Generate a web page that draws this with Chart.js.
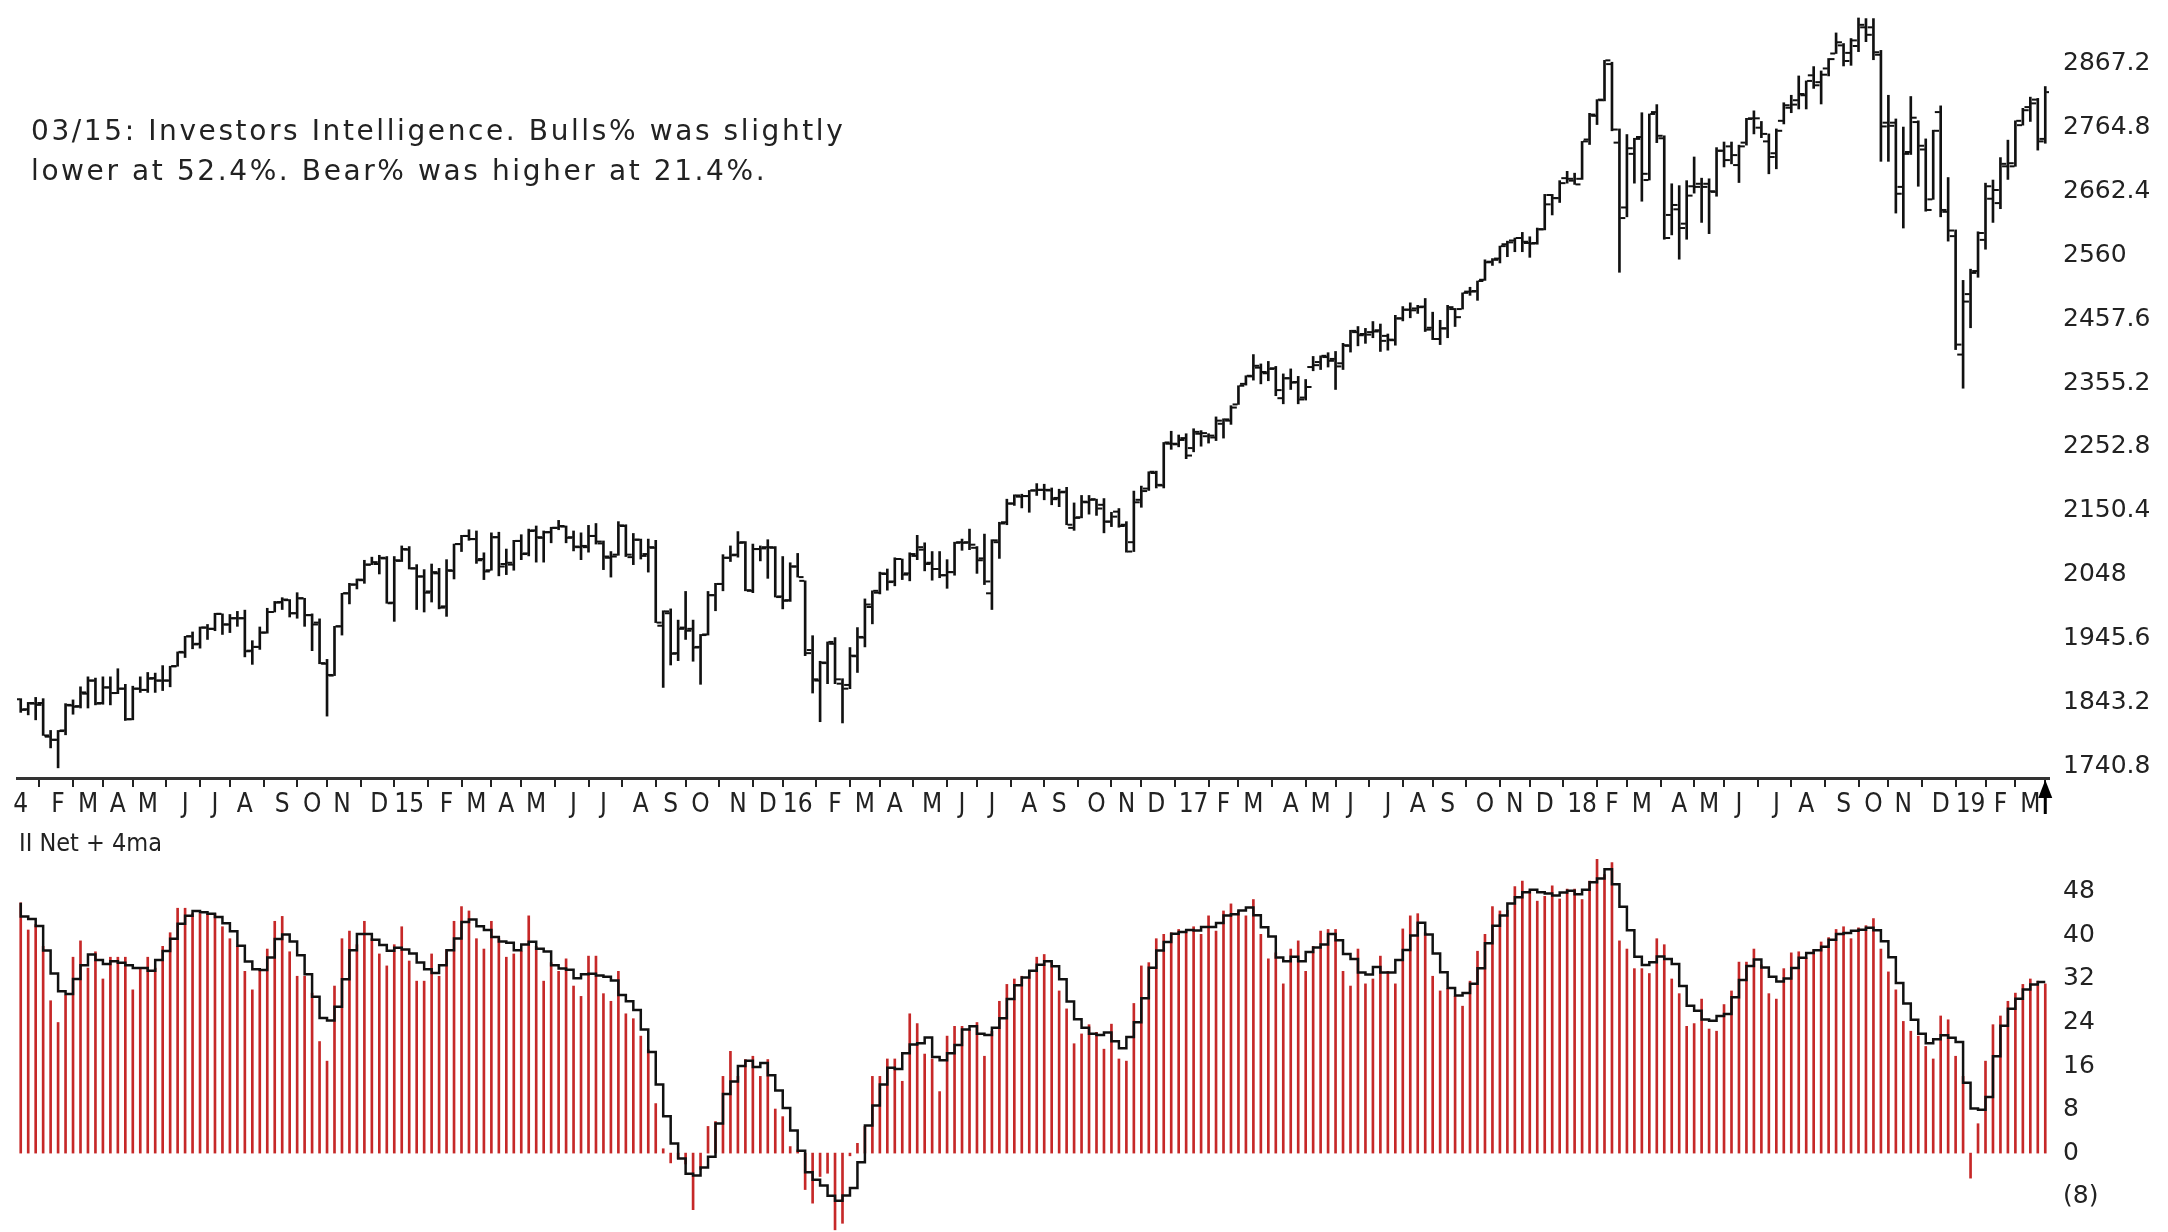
<!DOCTYPE html>
<html>
<head>
<meta charset="utf-8">
<script src="https://cdn.jsdelivr.net/npm/chart.js@4.4.1/dist/chart.umd.min.js"></script>
<style>
  body { margin: 0; background: #fff; width: 2168px; height: 1232px; overflow: hidden; position: relative; }
  #priceChart { position: absolute; left: 0; top: 0; }
  #netChart { position: absolute; left: 0; top: 840px; }
  .note { position: absolute; left: 31px; top: 111px; font-family: 'DejaVu Sans', sans-serif; font-size: 28px; line-height: 40px; letter-spacing: 2.6px; color: #222; white-space: nowrap; }
  .panel-label { position: absolute; left: 19px; top: 828px; font-family: 'DejaVu Sans Condensed', 'DejaVu Sans', sans-serif; font-size: 25px; line-height: 30px; color: #222; }
</style>
</head>
<body>
<canvas id="priceChart" width="2168" height="835"></canvas>
<canvas id="netChart" width="2168" height="392"></canvas>
<div class="note">03/15: Investors Intelligence. Bulls% was slightly<br>lower at 52.4%. Bear% was higher at 21.4%.</div>
<div class="panel-label">II Net + 4ma</div>
<script>
// weekly bars, first week of Jan 2014 to 03/15/2019
const opens = [
  1848,1832,1841,1842,1788,1783,1798,1838,1837,1857, 1878,1842,1867,1858,1865,1816,1865,1863,1882,1878,
  1878,1901,1923,1949,1937,1963,1961,1985,1968,1978, 1978,1926,1932,1955,1988,2004,2007,1986,2010,1983,
  1971,1905,1886,1965,2018,2032,2039,2064,2065,2074, 2003,2070,2088,2058,2045,2021,2050,1997,2054,2097,
  2110,2105,2073,2055,2108,2065,2064,2102,2082,2119, 2107,2116,2123,2125,2108,2092,2092,2110,2098,2075,
  2080,2126,2076,2104,2081,2091,1966,1986,1922,1963, 1961,1932,1952,2015,2033,2075,2080,2100,2022,2089,
  2092,2091,2013,2007,2061,2038,1927,1878,1906,1937, 1873,1871,1917,1947,1996,2019,2049,2037,2073,2050,
  2078,2088,2067,2057,2047,2052,2100,2100,2091,2074, 2018,2100,2132,2162,2173,2174,2183,2184,2183,2171,
  2181,2123,2140,2164,2169,2160,2133,2149,2128,2100, 2168,2186,2211,2191,2258,2257,2267,2251,2274,2270,
  2268,2290,2295,2321,2354,2366,2380,2371,2379,2331, 2363,2357,2332,2381,2389,2397,2394,2387,2415,2437,
  2434,2437,2440,2431,2424,2459,2473,2475,2478,2444, 2426,2443,2474,2474,2502,2503,2521,2550,2555,2578,
  2584,2588,2580,2580,2602,2657,2652,2684,2680,2683, 2746,2784,2809,2867,2741,2637,2723,2750,2681,2790,
  2748,2625,2634,2611,2671,2675,2675,2662,2728,2735, 2705,2741,2780,2765,2743,2724,2776,2797,2809,2817,
  2849,2838,2860,2884,2897,2885,2896,2926,2926,2882, 2773,2773,2670,2726,2774,2730,2650,2790,2630,2591,
  2401,2498,2535,2585,2651,2644,2703,2703,2769,2798, 2810,2747
];
const highs = [
  1849,1843,1851,1849,1798,1798,1841,1847,1868,1884, 1882,1884,1884,1897,1872,1869,1884,1891,1890,1902,
  1901,1924,1949,1956,1964,1968,1986,1985,1984,1989, 1991,1942,1964,1994,2005,2011,2008,2019,2010,1985,
  1977,1912,1965,2018,2034,2041,2071,2076,2079,2077, 2077,2094,2093,2064,2056,2065,2058,2072,2097,2111,
  2120,2118,2083,2115,2116,2089,2103,2112,2121,2126, 2118,2124,2135,2126,2118,2115,2127,2130,2102,2085,
  2133,2128,2114,2105,2105,2103,1990,1993,1975,2021, 1975,1952,2021,2034,2080,2094,2117,2101,2097,2094,
  2104,2093,2077,2067,2082,2038,1950,1909,1940,1947, 1881,1931,1963,2009,2022,2052,2057,2075,2073,2083,
  2111,2099,2085,2085,2072,2100,2105,2121,2093,2113, 2104,2132,2169,2176,2177,2183,2194,2193,2187,2185,
  2188,2163,2175,2175,2169,2170,2148,2154,2133,2182, 2190,2213,2214,2260,2278,2272,2274,2282,2279,2274,
  2301,2298,2319,2351,2367,2401,2386,2390,2382,2370, 2378,2366,2361,2398,2399,2404,2406,2419,2440,2446,
  2443,2454,2450,2434,2464,2478,2484,2480,2491,2469, 2456,2480,2475,2500,2509,2519,2553,2555,2575,2583,
  2588,2597,2590,2604,2658,2658,2680,2695,2692,2743, 2788,2810,2873,2870,2763,2754,2748,2789,2787,2802,
  2752,2675,2672,2680,2718,2684,2683,2733,2742,2742, 2737,2780,2792,2775,2755,2763,2805,2817,2848,2840,
  2863,2856,2876,2917,2900,2908,2941,2940,2940,2889, 2817,2779,2766,2815,2776,2747,2761,2800,2685,2601,
  2520,2538,2598,2676,2681,2717,2745,2776,2796,2814, 2812,2831
];
const lows = [
  1827,1823,1815,1790,1770,1738,1791,1824,1834,1834, 1839,1840,1839,1857,1814,1815,1859,1859,1859,1862,
  1868,1901,1915,1929,1930,1944,1958,1952,1955,1965, 1916,1904,1928,1954,1988,1992,1980,1978,1965,1926,
  1905,1821,1886,1951,2001,2025,2034,2064,2049,2002, 1973,2069,2057,1992,1988,2004,1993,1981,2041,2085,
  2103,2066,2040,2055,2046,2048,2055,2072,2078,2068, 2068,2099,2120,2099,2086,2072,2084,2097,2056,2044,
  2079,2077,2064,2073,2052,1971,1867,1903,1910,1944, 1909,1872,1951,1990,2022,2069,2076,2022,2019,2070,
  2042,2012,1993,2005,2044,1918,1858,1812,1873,1873, 1810,1865,1891,1932,1969,2017,2023,2030,2040,2038,
  2072,2054,2039,2043,2026,2047,2087,2088,2050,2032, 1992,2074,2128,2159,2155,2148,2175,2168,2160,2157,
  2128,2119,2139,2145,2143,2115,2125,2124,2084,2085, 2156,2183,2187,2187,2249,2253,2234,2245,2254,2259,
  2263,2267,2289,2321,2352,2360,2354,2359,2335,2322, 2345,2322,2328,2375,2377,2381,2345,2377,2405,2415,
  2419,2428,2406,2408,2416,2455,2460,2467,2438,2425, 2417,2428,2446,2474,2496,2488,2520,2544,2548,2558,
  2566,2566,2557,2578,2601,2625,2645,2676,2674,2682, 2738,2770,2808,2760,2533,2622,2676,2647,2681,2741,
  2586,2593,2554,2586,2660,2613,2595,2655,2702,2707, 2677,2737,2755,2749,2691,2699,2771,2789,2795,2795,
  2828,2803,2848,2884,2864,2865,2887,2903,2874,2711, 2711,2628,2604,2722,2671,2631,2650,2622,2583,2409,
  2347,2444,2525,2570,2613,2635,2682,2703,2769,2775, 2729,2740
];
const closes = [
  1831,1842,1839,1790,1783,1797,1839,1836,1859,1878, 1841,1867,1858,1865,1816,1865,1863,1881,1878,1878,
  1901,1924,1949,1936,1963,1961,1985,1968,1978,1978, 1925,1932,1955,1988,2003,2008,1986,2010,1983,1968,
  1906,1887,1965,2018,2032,2040,2064,2068,2075,2002, 2071,2089,2058,2045,2019,2052,1995,2055,2097,2110,
  2105,2071,2053,2108,2061,2067,2102,2081,2118,2108, 2116,2123,2126,2107,2093,2094,2110,2101,2077,2077,
  2127,2080,2104,2078,2092,1971,1989,1921,1961,1958, 1931,1951,2015,2033,2075,2079,2099,2023,2089,2090,
  2092,2012,2006,2061,2044,1922,1880,1907,1940,1880, 1865,1918,1948,2000,2022,2050,2036,2073,2048,2081,
  2092,2065,2057,2047,2052,2099,2099,2096,2071,2037, 2103,2130,2162,2175,2174,2183,2184,2184,2169,2180,
  2128,2139,2165,2168,2154,2133,2141,2126,2085,2164, 2182,2213,2192,2260,2258,2264,2239,2277,2275,2271,
  2295,2297,2316,2351,2367,2383,2373,2378,2344,2363, 2356,2329,2349,2384,2399,2391,2382,2416,2439,2432,
  2433,2438,2423,2425,2459,2473,2472,2477,2441,2426, 2443,2477,2461,2500,2502,2519,2549,2553,2575,2581,
  2588,2582,2579,2602,2642,2652,2676,2683,2674,2743, 2786,2810,2873,2762,2620,2732,2747,2691,2787,2752,
  2588,2641,2604,2656,2670,2670,2663,2728,2713,2721, 2735,2779,2780,2755,2718,2760,2801,2802,2819,2840,
  2833,2850,2875,2902,2872,2905,2930,2914,2886,2767, 2768,2659,2723,2781,2736,2633,2760,2633,2600,2417,
  2486,2532,2596,2671,2665,2707,2708,2776,2793,2804, 2743,2822
];

// II Net (bulls% - bears%), one value per week
const netValues = [
  46,41,42,38,28,24,29,36,39,34, 37,32,36,36,36,30,34,36,34,38,
  40.5,45,45,44,44,44,44,41.6,39.4,38, 33.4,30,33.7,37.5,42.6,43.5,37,32.5,32.5,29.4,
  20.5,16.9,30.7,39.4,40.8, 38.3,42.6,39.4,36.6,34.4,
  38.3,41.6,35.3,31.6,31.6,36.6,32.5,37.4,42.6,45.3, 44.5,39.4,37.5,42.6,39.4,36,36.6,37.1,43.6,38,
  31.6,35,33.4,35.7,30.7,28.8,36.2,36.2,29.3,27.9, 33.4,25.6,24.7,21.5,19,9.1,0.8,-1.8,-1,-2,
  -10.4,-3,4.9,5.8,14.1,18.7,14.1,17.2,17.8,14.1, 17.2,8.1,6.7,1.2,0.6,-6.7,-9.2,-4.3,-3.7,-14.1,
  -12.9,-0.5,1.8,4.9,14.1,14.1,17.3,17.3,13.2,25.6, 23.8,18.2,17.3,11.3,21.5,23.3,23.3,22.7,24,17.8,
  22.4,27.9,31,32,32.5,33.5,36,36.5,35,29.8, 26.5,20.1,21.9,23.6,22.2,19.1,23.7,17.3,16.9,27.5,
  34.4,35,39.4,40.2,40.5,41.1,40.8,41.6,40.2,43.6, 40.8,44.5,45.8,44.5,43.6,46.6,40.2,35.7,36.8,31.1,
  37.5,39,33.4,38,40.8,41.1,41.1,33.4,30.7,37.5, 31.1,32,36.2,33.4,31.1,41.2,43.6,44,40.5,32.5,
  29.8,30.2,28.8,27,31.6,37.1,40.2,45.3,44.5,44.6, 49,50,48.2,46.3,47.2,49.1,46.7,48.5,48.5,46.6,
  50,54,51.2,53.4,39,37.5,33.9,33.9,33,39.4, 38.3,32,29.3,23.3,23.8,28.3,22.8,22.4,27.3,29.8,
  35.1,35.1,37.5,34.6,29.3,28.3,33.9,36.8,37,35.9, 37.4,38.8,39.6,41.1,41.6,39.4,41.4,41.8,43.1,37.5,
  33.3,30,24.2,22.4,21.5,19.6,17.3,25.2,24.5,17.8, 14.1,-4.6,5.4,16.9,23.6,25.2,27.9,29.4,31,32,
  31.6,31.1
];

// x axis: week index of the first bar of each month, and its label
const monthTickWeeks = [
  0,5,9,13,17,22,26,30,35,39,43,48,
  52,57,61,65,69,74,78,83,87,91,96,100,
  104,109,113,117,122,126,130,135,139,144,148,152,
  157,161,165,170,174,178,183,187,191,196,200,204,
  209,213,217,222,226,230,235,239,244,248,252,257,
  261,265,269
];
const monthLabels = [
  '4','F','M','A','M','J','J','A','S','O','N','D',
  '15','F','M','A','M','J','J','A','S','O','N','D',
  '16','F','M','A','M','J','J','A','S','O','N','D',
  '17','F','M','A','M','J','J','A','S','O','N','D',
  '18','F','M','A','M','J','J','A','S','O','N','D',
  '19','F','M'
];

const priceTicks = [1740.8, 1843.2, 1945.6, 2048, 2150.4, 2252.8, 2355.2, 2457.6, 2560, 2662.4, 2764.8, 2867.2];
const priceTickLabels = ['1740.8', '1843.2', '1945.6', '2048', '2150.4', '2252.8', '2355.2', '2457.6', '2560', '2662.4', '2764.8', '2867.2'];
const netTicks = [-8, 0, 8, 16, 24, 32, 40, 48];
const netTickLabels = ['(8)', '0', '8', '16', '24', '32', '40', '48'];

const labelFont = { family: "'DejaVu Sans', sans-serif", size: 25 };
const monthFont = { family: "'DejaVu Sans Condensed', 'DejaVu Sans', sans-serif", size: 26 };
const lastWeek = closes.length - 1;

// 4 week moving average of the net values
const ma4 = netValues.map((v, i) => {
  const win = netValues.slice(Math.max(0, i - 3), i + 1);
  return win.reduce((a, b) => a + b, 0) / win.length;
});

const baseOptions = {
  responsive: false,
  animation: false,
  events: [],
  devicePixelRatio: 1,
  plugins: { legend: { display: false }, tooltip: { enabled: false } },
};

// right-hand value axis with a fixed width and no extra top/bottom padding
function fixRightAxis(s) {
  s.width = 119;
  s.paddingTop = 0;
  s.paddingBottom = 0;
}

// small arrow under the axis that marks the last bar
const lastBarMarker = {
  id: 'lastBarMarker',
  afterDraw(chart) {
    const { ctx, chartArea, scales } = chart;
    const x = scales.x.getPixelForValue(lastWeek);
    const y = chartArea.bottom + 2;
    ctx.save();
    ctx.fillStyle = '#000';
    ctx.beginPath();
    ctx.moveTo(x, y);
    ctx.lineTo(x - 7, y + 18);
    ctx.lineTo(x + 7, y + 18);
    ctx.closePath();
    ctx.fill();
    ctx.fillRect(x - 1.5, y + 16, 3, 18);
    ctx.restore();
  },
};

new Chart(document.getElementById('priceChart'), {
  type: 'bar',
  data: {
    datasets: [
      {
        type: 'bar',
        data: highs.map((h, i) => ({ x: i, y: [lows[i], h] })),
        backgroundColor: '#111',
        barThickness: 2,
      },
      {
        type: 'line',
        data: opens.map((o, i) => ({ x: i - 0.45, y: o })),
        showLine: false,
        pointStyle: 'line',
        pointRadius: 2.5,
        borderColor: '#111',
        borderWidth: 2,
      },
      {
        type: 'line',
        data: closes.map((c, i) => ({ x: i + 0.45, y: c })),
        showLine: false,
        pointStyle: 'line',
        pointRadius: 2.5,
        borderColor: '#111',
        borderWidth: 2,
      },
    ],
  },
  options: {
    ...baseOptions,
    layout: { padding: { left: 17, right: 0, top: 0, bottom: 0 } },
    scales: {
      x: {
        type: 'linear',
        min: -0.5,
        max: lastWeek + 0.5,
        offset: false,
        afterBuildTicks: (s) => { s.ticks = monthTickWeeks.map((v) => ({ value: v })); },
        afterFit: (s) => { s.height = 57; },
        ticks: {
          autoSkip: false, maxRotation: 0, minRotation: 0, padding: 3,
          color: '#222', font: monthFont,
          callback: (v, i) => monthLabels[i],
        },
        grid: { display: true, drawOnChartArea: false, drawTicks: true, tickLength: 9, color: '#222', lineWidth: 2 },
        border: { display: true, color: '#333', width: 3 },
      },
      y: {
        type: 'linear',
        position: 'right',
        min: 1721.7,
        max: 2960.2,
        afterBuildTicks: (s) => { s.ticks = priceTicks.map((v) => ({ value: v })); },
        afterFit: fixRightAxis,
        ticks: { padding: 14, color: '#222', font: labelFont, callback: (v, i) => priceTickLabels[i] },
        grid: { display: false, drawTicks: false },
        border: { display: false },
      },
    },
  },
  plugins: [lastBarMarker],
});

new Chart(document.getElementById('netChart'), {
  type: 'bar',
  data: {
    datasets: [
      {
        type: 'line',
        data: ma4.map((v, i) => ({ x: i, y: v })),
        stepped: 'after',
        borderColor: '#111',
        borderWidth: 2.5,
        pointRadius: 0,
        fill: false,
      },
      {
        type: 'bar',
        data: netValues.map((v, i) => ({ x: i, y: v })),
        backgroundColor: '#c62828',
        barThickness: 2,
      },
    ],
  },
  options: {
    ...baseOptions,
    layout: { padding: { left: 17, right: 0, top: 10, bottom: 0 } },
    scales: {
      x: { type: 'linear', min: -0.5, max: lastWeek + 0.5, offset: false, display: false },
      y: {
        type: 'linear',
        position: 'right',
        min: -14.5,
        max: 55.7,
        afterBuildTicks: (s) => { s.ticks = netTicks.map((v) => ({ value: v })); },
        afterFit: fixRightAxis,
        ticks: { padding: 14, color: '#222', font: labelFont, callback: (v, i) => netTickLabels[i] },
        grid: { display: false, drawTicks: false },
        border: { display: false },
      },
    },
  },
});
</script>
</body>
</html>
